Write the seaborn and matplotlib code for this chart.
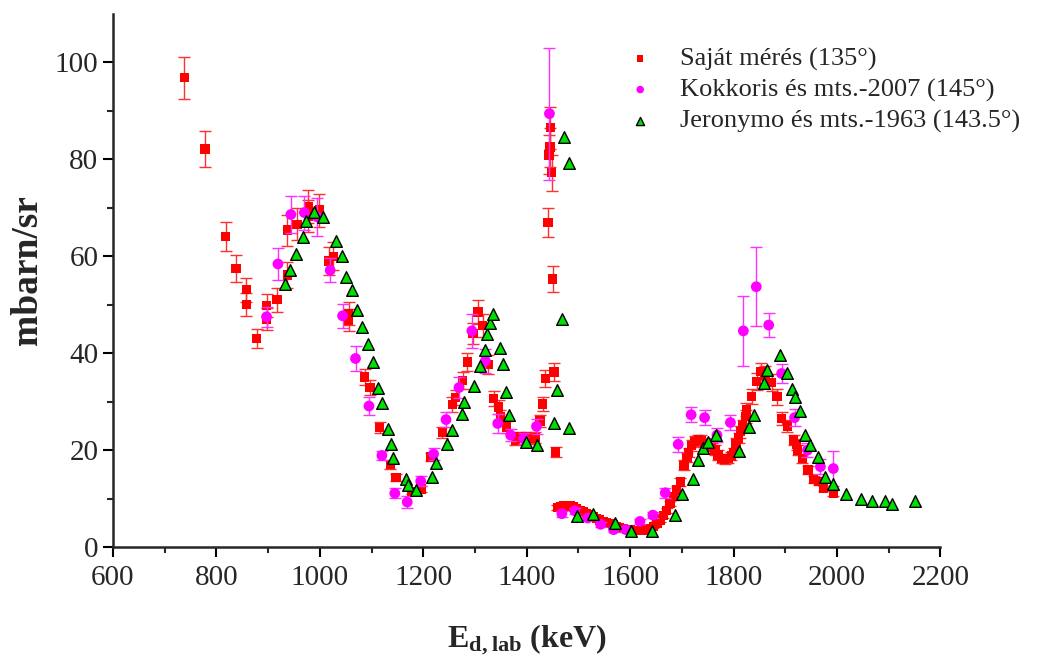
import numpy as np
import pandas as pd
import matplotlib
matplotlib.use("Agg")
import matplotlib.pyplot as plt
import seaborn as sns

# ---- data ----
red_x = [738, 778, 818, 838, 858, 858, 878, 897, 897, 917, 937, 937, 956, 978, 978, 999,
         1017, 1026, 1056, 1056, 1087, 1097, 1116, 1136, 1147, 1178, 1196, 1215, 1237,
         1256, 1263, 1276, 1285, 1296, 1306, 1315, 1326, 1336, 1346, 1349, 1361, 1378,
         1387, 1400, 1410, 1416, 1426, 1431, 1436, 1441, 1443, 1445, 1446, 1448, 1450,
         1453, 1456,
         1459, 1465, 1472, 1478, 1484, 1490, 1496, 1503, 1509, 1516, 1522, 1528, 1535,
         1541, 1548, 1554, 1561, 1567, 1574, 1580, 1587, 1593, 1600, 1606, 1613, 1619,
         1626, 1632, 1639, 1645, 1652, 1658, 1664, 1671, 1677, 1684, 1690, 1697, 1704,
         1710, 1713, 1719, 1725, 1732, 1738, 1745, 1751, 1758, 1764, 1770, 1777, 1783,
         1790, 1796, 1800, 1805, 1810, 1813, 1818, 1824, 1825, 1835, 1845, 1853, 1861,
         1874, 1884, 1893, 1904, 1916, 1922, 1924, 1933, 1944, 1955, 1965, 1974, 1993]
red_y = [96.8, 82.1, 64.0, 57.5, 53.1, 50.0, 43.0, 49.9, 47.0, 51.0, 65.4, 56.1, 66.6, 70.3, 68.3, 69.5,
         59.0, 60.0, 48.2, 46.8, 35.1, 32.9, 24.7, 17.0, 14.3, 11.5, 12.0, 18.6, 23.6,
         29.4, 30.8, 34.4, 38.2, 44.1, 48.5, 45.7, 37.7, 30.7, 28.9, 26.9, 24.8, 22.1,
         22.7, 22.7, 22.4, 22.6, 26.0, 29.5, 34.8, 66.9, 80.9, 82.5, 86.5, 77.2, 55.3,
         36.1, 19.6,
         8.2, 8.4, 8.6, 8.5, 8.6, 8.3, 8.0, 7.6, 7.3, 6.9, 6.6, 6.3, 5.9,
         5.6, 5.3, 5.1, 4.9, 4.6, 4.3, 4.1, 3.9, 3.7, 3.5, 3.4, 3.4, 3.4,
         3.5, 3.6, 3.9, 4.3, 5.0, 5.6, 6.5, 7.6, 9.0, 10.4, 11.8, 13.4, 16.9,
         18.5, 19.5, 21.0, 21.8, 22.1, 22.0, 21.4, 21.0, 20.5, 20.0, 19.0, 18.3, 18.0,
         18.3, 18.8, 19.5, 21.4, 22.5, 23.8, 25.0, 26.9, 28.4, 31.1, 34.2, 36.2, 35.5,
         33.9, 31.0, 26.5, 25.0, 22.1, 21.2, 20.0, 18.3, 15.9, 14.0, 13.5, 12.1, 11.1]
red_err = [4.3, 3.7, 3.0, 2.8, 2.5, 2.4, 2.0, 2.4, 2.3, 2.5, 3.2, 2.7, 3.3, 3.4, 3.3, 3.4,
           2.8, 2.9, 2.3, 2.3, 1.7, 1.6, 1.2, 0.9, 0.7, 0.6, 0.6, 0.9, 1.2,
           1.5, 1.5, 1.7, 1.9, 2.2, 2.4, 2.3, 1.9, 1.5, 1.4, 1.3, 1.2, 1.1,
           1.1, 1.1, 1.1, 1.1, 1.3, 1.5, 1.8, 3.0, 4.0, 4.0, 4.3, 3.7, 2.7,
           1.8, 1.0,
           0.5, 0.5, 0.5, 0.5, 0.5, 0.5, 0.5, 0.5, 0.5, 0.5, 0.4, 0.4, 0.4,
           0.4, 0.4, 0.4, 0.4, 0.3, 0.3, 0.3, 0.3, 0.3, 0.3, 0.3, 0.3, 0.3,
           0.3, 0.3, 0.3, 0.3, 0.3, 0.4, 0.4, 0.5, 0.6, 0.7, 0.8, 0.9, 1.0,
           1.0, 1.0, 1.1, 1.1, 1.1, 1.1, 1.1, 1.1, 1.0, 1.0, 1.0, 0.9, 0.9,
           0.9, 0.9, 1.0, 1.1, 1.1, 1.2, 1.3, 1.4, 1.4, 1.6, 1.7, 1.8, 1.8,
           1.7, 1.6, 1.3, 1.3, 1.1, 1.1, 1.0, 0.9, 0.8, 0.7, 0.7, 0.6, 0.6]

mag_x = [897, 919, 944, 970, 995, 1020, 1044, 1069, 1095, 1120, 1145, 1169, 1195, 1220,
         1244, 1269, 1294, 1320, 1344, 1369, 1394, 1419, 1444, 1468, 1493, 1518, 1543,
         1568, 1592, 1619, 1644, 1668, 1693, 1718, 1744, 1768, 1794, 1819, 1844, 1868,
         1893, 1918, 1943, 1968, 1993]
mag_y = [47.5, 58.4, 68.6, 69.0, 68.1, 57.1, 47.7, 38.9, 29.1, 18.9, 11.1, 9.3, 13.6, 19.2,
         26.3, 32.9, 44.6, 38.4, 25.5, 23.1, 22.4, 24.9, 89.4, 6.9, 7.5, 6.0, 4.7,
         3.6, 3.6, 5.3, 6.6, 11.2, 21.2, 27.3, 26.7, 23.1, 25.7, 44.6, 53.7, 45.8,
         35.8, 26.7, 20.0, 16.6, 16.2]
mag_err = [2.0, 3.3, 3.8, 3.5, 4.0, 2.5, 2.5, 2.5, 1.8, 1.0, 1.0, 1.2, 1.0, 1.3,
           1.5, 2.2, 3.5, 2.5, 2.0, 1.3, 1.2, 1.5, 13.6, 0.6, 0.6, 0.5, 0.5,
           0.4, 0.4, 0.5, 0.6, 1.0, 1.5, 1.5, 1.5, 1.5, 1.5, 7.2, 8.1, 2.5,
           2.0, 1.8, 1.5, 1.5, 3.6]

grn_x = [933, 943, 953, 968, 973, 988, 1007, 1032, 1042, 1051, 1062, 1072, 1082, 1093,
         1102, 1112, 1121, 1131, 1137, 1142, 1167, 1171, 1186, 1216, 1225, 1245, 1255,
         1274, 1279, 1299, 1310, 1320, 1324, 1329, 1334, 1349, 1354, 1360, 1365, 1399,
         1419, 1452, 1459, 1468, 1472, 1482, 1482, 1497, 1528, 1571, 1602, 1642, 1686,
         1701, 1721, 1731, 1740, 1751, 1766, 1810, 1829, 1840, 1858, 1864, 1889, 1903,
         1913, 1918, 1929, 1938, 1948, 1963, 1977, 1993, 2018, 2047, 2067, 2092, 2107, 2151]
grn_y = [54.2, 57.1, 60.4, 64.0, 67.3, 69.2, 68.0, 63.2, 60.1, 55.7, 53.0, 49.0, 45.4, 41.9,
         38.1, 32.9, 29.8, 24.3, 21.2, 18.4, 14.1, 12.9, 11.8, 14.5, 17.4, 21.2, 24.1,
         27.4, 30.0, 33.3, 37.4, 40.7, 43.9, 46.2, 48.0, 41.0, 37.7, 32.0, 27.2, 21.7,
         21.0, 25.6, 32.4, 47.1, 84.5, 79.2, 24.6, 6.4, 6.9, 4.9, 3.4, 3.4, 6.7,
         10.9, 14.0, 17.9, 20.4, 21.7, 23.1, 19.8, 24.8, 27.2, 33.9, 36.6, 39.6, 35.9,
         32.7, 31.0, 28.0, 23.1, 21.0, 18.5, 14.5, 13.0, 10.9, 9.9, 9.5, 9.5, 8.9, 9.5]

labels = ["Saját mérés (135°)", "Kokkoris és mts.-2007 (145°)", "Jeronymo és mts.-1963 (143.5°)"]
x_ticks = [600, 800, 1000, 1200, 1400, 1600, 1800, 2000, 2200]
y_ticks = [0, 20, 40, 60, 80, 100]

# ---- plot ----
sns.set_style("ticks")
plt.rcParams['font.family'] = ['Liberation Serif', 'DejaVu Serif']
plt.rcParams['mathtext.fontset'] = 'custom'
plt.rcParams['mathtext.rm'] = 'Liberation Serif'
plt.rcParams['mathtext.bf'] = 'Liberation Serif:bold'

fig = plt.figure(figsize=(10.5, 6.56), dpi=100)
ax = fig.add_axes([0.1076, 0.166, 0.788, 0.813])

red_df = pd.DataFrame({"x": red_x, "y": red_y})
mag_df = pd.DataFrame({"x": mag_x, "y": mag_y})
grn_df = pd.DataFrame({"x": grn_x, "y": grn_y})

ax.errorbar(red_x, red_y, yerr=red_err, fmt='none', ecolor='#ff3030', elinewidth=1.0,
            capsize=4, capthick=1.0, zorder=2)
sns.scatterplot(data=red_df, x="x", y="y", marker='s', color='#ff0000', s=45,
                edgecolor='none', linewidth=0, ax=ax, label=labels[0], zorder=3)
ax.errorbar(mag_x, mag_y, yerr=mag_err, fmt='none', ecolor='#ff30ff', elinewidth=1.0,
            capsize=4, capthick=1.0, zorder=4)
sns.scatterplot(data=mag_df, x="x", y="y", marker='o', color='#ff00ff', s=60,
                edgecolor='none', linewidth=0, ax=ax, label=labels[1], zorder=5)
sns.scatterplot(data=grn_df, x="x", y="y", marker='^', color='#00e000', s=70,
                edgecolor='black', linewidth=1.0, ax=ax, label=labels[2], zorder=6)

ax.set_xlim(600, 2200)
ax.set_ylim(0, 110)
ax.set_xticks(x_ticks)
ax.set_yticks(y_ticks)
ax.set_xticks(np.arange(700, 2200, 200), minor=True)
ax.set_yticks(np.arange(10, 110, 20), minor=True)
ax.tick_params(axis='both', which='major', direction='out', length=7, width=1.5,
               labelsize=21, color='black')
ax.tick_params(axis='x', which='major', pad=6)
ax.tick_params(axis='both', which='minor', direction='out', length=4, width=1.5)
sns.despine(ax=ax, top=True, right=True)
for sp in ['left', 'bottom']:
    ax.spines[sp].set_linewidth(1.8)

ax.set_xlabel(r"$\mathbf{E_{d,lab}}$ (keV)", fontsize=23, fontweight='bold', labelpad=22)
ax.set_ylabel("mbarn/sr", fontsize=27, fontweight='bold')
ax.yaxis.set_label_coords(-0.082, 0.52)

leg = ax.legend(loc='upper left', bbox_to_anchor=(627 / 1050, 1 - 47 / 656),
                bbox_transform=fig.transFigure, frameon=False, borderpad=0,
                borderaxespad=0, fontsize=19, markerscale=0.7, handlelength=1.0,
                handletextpad=1.0, labelspacing=0.27)

fig.savefig("out.png", dpi=100)
